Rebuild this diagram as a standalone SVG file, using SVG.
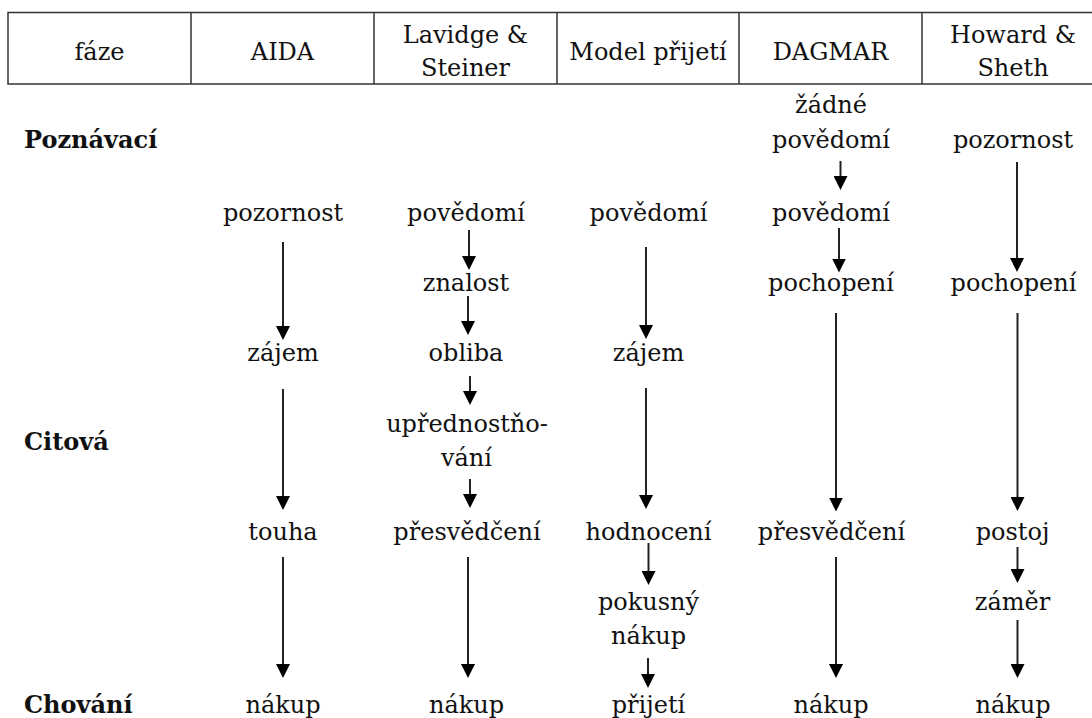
<svg xmlns="http://www.w3.org/2000/svg" width="1092" height="718" viewBox="0 0 1092 718">
<style>
.t{font-family:"DejaVu Serif","Liberation Serif",serif;font-size:24px;fill:#111;text-anchor:middle}
.b{font-family:"DejaVu Serif","Liberation Serif",serif;font-size:24px;font-weight:bold;fill:#111}
.grid{fill:none;stroke:#333;stroke-width:1.5}
.c{stroke:#222;stroke-width:2;fill:none;marker-end:url(#ah)}
</style>
<defs>
<marker id="ah" markerUnits="userSpaceOnUse" markerWidth="14" markerHeight="14" refX="7" refY="7" orient="auto" viewBox="0 0 14 14">
<path d="M0,0 L14,7 L0,14 z" fill="#000"/>
</marker>
</defs>
<rect width="1092" height="718" fill="#fff"/>
<g id="header">
<rect class="grid" x="8" y="12.5" width="1110" height="71.5"/>
<line class="grid" x1="191" y1="12.5" x2="191" y2="84"/>
<line class="grid" x1="374" y1="12.5" x2="374" y2="84"/>
<line class="grid" x1="557" y1="12.5" x2="557" y2="84"/>
<line class="grid" x1="739" y1="12.5" x2="739" y2="84"/>
<line class="grid" x1="922" y1="12.5" x2="922" y2="84"/>
<text class="t" x="99.5" y="60">fáze</text>
<text class="t" x="282.5" y="60">AIDA</text>
<text class="t" x="465.5" y="43">Lavidge &amp;</text>
<text class="t" x="465.5" y="76">Steiner</text>
<text class="t" x="648" y="60">Model přijetí</text>
<text class="t" x="830.5" y="60">DAGMAR</text>
<text class="t" x="1013" y="43">Howard &amp;</text>
<text class="t" x="1013" y="76">Sheth</text>
</g>
<g id="row-labels">
<text class="b" x="24" y="147.5">Poznávací</text>
<text class="b" x="24" y="450">Citová</text>
<text class="b" x="24" y="713">Chování</text>
</g>
<g id="aida-pozornost"><text class="t" x="283" y="221">pozornost</text></g>
<g id="aida-zajem"><text class="t" x="283" y="361">zájem</text></g>
<g id="aida-touha"><text class="t" x="283" y="540">touha</text></g>
<g id="aida-nakup"><text class="t" x="283" y="713">nákup</text></g>
<g id="ls-povedomi"><text class="t" x="466" y="221">povědomí</text></g>
<g id="ls-znalost"><text class="t" x="466" y="290.5">znalost</text></g>
<g id="ls-obliba"><text class="t" x="466" y="361">obliba</text></g>
<g id="ls-upred"><text class="t" x="467" y="431.5">upřednostňo-</text><text class="t" x="466.5" y="465.5">vání</text></g>
<g id="ls-presvedceni"><text class="t" x="467" y="540">přesvědčení</text></g>
<g id="ls-nakup"><text class="t" x="466.5" y="713">nákup</text></g>
<g id="mp-povedomi"><text class="t" x="648.5" y="221">povědomí</text></g>
<g id="mp-zajem"><text class="t" x="648.5" y="361">zájem</text></g>
<g id="mp-hodnoceni"><text class="t" x="648.5" y="540">hodnocení</text></g>
<g id="mp-pokusny"><text class="t" x="648.5" y="610">pokusný</text><text class="t" x="648.5" y="644">nákup</text></g>
<g id="mp-prijeti"><text class="t" x="648.5" y="713">přijetí</text></g>
<g id="dg-zadne"><text class="t" x="831" y="113">žádné</text><text class="t" x="831" y="148">povědomí</text></g>
<g id="dg-povedomi"><text class="t" x="831" y="221">povědomí</text></g>
<g id="dg-pochopeni"><text class="t" x="831" y="291">pochopení</text></g>
<g id="dg-presvedceni"><text class="t" x="831.5" y="540">přesvědčení</text></g>
<g id="dg-nakup"><text class="t" x="831" y="713">nákup</text></g>
<g id="hs-pozornost"><text class="t" x="1013" y="148">pozornost</text></g>
<g id="hs-pochopeni"><text class="t" x="1013.5" y="291">pochopení</text></g>
<g id="hs-postoj"><text class="t" x="1012.5" y="540">postoj</text></g>
<g id="hs-zamer"><text class="t" x="1012.5" y="609.5">záměr</text></g>
<g id="hs-nakup"><text class="t" x="1013" y="713">nákup</text></g>
<g id="connectors">
<path class="c" d="M283,242 V333"/>
<path class="c" d="M283,389 V503"/>
<path class="c" d="M283,557 V671"/>
<path class="c" d="M469,230 V263"/>
<path class="c" d="M468,296 V328"/>
<path class="c" d="M470,376 V398"/>
<path class="c" d="M470,479 V501"/>
<path class="c" d="M468,557 V671"/>
<path class="c" d="M646,247 V332"/>
<path class="c" d="M646,388 V502"/>
<path class="c" d="M648.5,543 V578"/>
<path class="c" d="M648,658 V681"/>
<path class="c" d="M840.5,161 V183"/>
<path class="c" d="M839,228 V265.5"/>
<path class="c" d="M836,313 V504.5"/>
<path class="c" d="M836,557 V671"/>
<path class="c" d="M1017,162 V265"/>
<path class="c" d="M1017.5,313 V504"/>
<path class="c" d="M1017.5,547 V576"/>
<path class="c" d="M1017.5,620 V671"/>
</g>
</svg>
